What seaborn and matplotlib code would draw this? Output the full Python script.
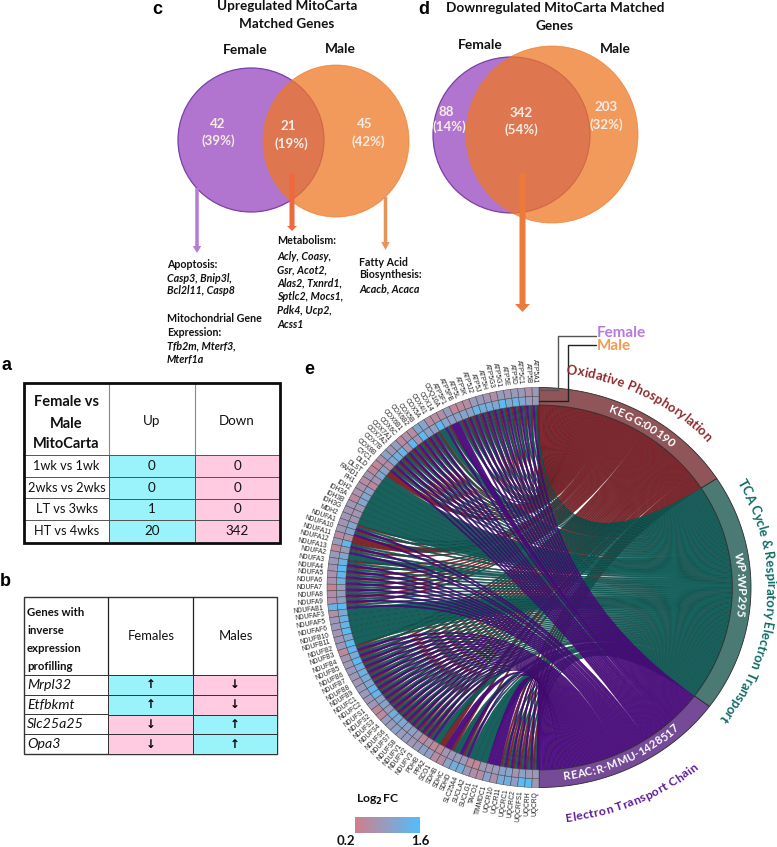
import numpy as np
import matplotlib
matplotlib.use("Agg")
import matplotlib.pyplot as plt
import seaborn as sns
from matplotlib.colors import LinearSegmentedColormap, ListedColormap, Normalize
from matplotlib.font_manager import FontProperties
from matplotlib.patches import Ellipse, PathPatch, Polygon, Rectangle
from matplotlib.path import Path
from matplotlib.textpath import text_to_path

# ------------ data --------------
table_a_rows = ["1wk vs 1wk", "2wks vs 2wks", "LT vs 3wks", "HT vs 4wks"]
table_a_up = [0, 0, 1, 20]
table_a_down = [0, 0, 0, 342]

table_b_genes = ["Mrpl32", "Etfbkmt", "Slc25a25", "Opa3"]
table_b_female = ["up", "up", "down", "down"]
table_b_male = ["down", "down", "up", "up"]

genes = ["ATP5A1", "ATP5B", "ATP5C1", "ATP5D", "ATP5E", "ATP5G1", "ATP5G3", "ATP5H", "ATP5J", "ATP5J2",
         "ATP5K", "ATP5L", "ATP5PB", "ATP5F1", "COQ10A", "COX14", "COX4I1", "COX5A", "COX5B", "COX6B2",
         "COX6B1", "COX6C", "COX7A1", "COX7A2", "COX7B", "COX8B", "CYC1", "DLD", "DLST", "FAHD1",
         "FH1", "IDH2", "IDH3A", "IDH3B", "IDH3G", "MDH2", "NDUFA1", "NDUFA10", "NDUFA11", "NDUFA12",
         "NDUFA13", "NDUFA2", "NDUFA3", "NDUFA4", "NDUFA5", "NDUFA6", "NDUFA7", "NDUFA8", "NDUFA9", "NDUFAB1",
         "NDUFAF3", "NDUFAF5", "NDUFAF6", "NDUFB10", "NDUFB11", "NDUFB2", "NDUFB3", "NDUFB4", "NDUFB5", "NDUFB6",
         "NDUFB7", "NDUFB8", "NDUFB9", "NDUFC1", "NDUFC2", "NDUFS1", "NDUFS2", "NDUFS3", "NDUFS4", "NDUFS6",
         "NDUFS7", "NDUFS8", "NDUFV1", "NDUFV2", "NDUFV3", "PDHB", "PPA2", "SCO1", "SDHB", "SDHC",
         "SDHD", "SLC25A4", "SUCLA2", "SUCLG1", "TACO1", "TIMMDC1", "UQCR10", "UQCR11", "UQCRC1", "UQCRC2",
         "UQCRFS1", "UQCRH", "UQCRQ"]

female_fc = [0.75, 0.55, 0.8, 0.8, 0.75, 0.85, 0.55, 0.7, 0.8, 0.85,
             0.5, 0.45, 0.4, 0.85, 0.55, 0.5, 0.5, 1.05, 1.1, 0.5,
             0.6, 0.45, 0.9, 0.75, 0.95, 0.55, 0.4, 0.4, 0.7, 0.5,
             0.65, 0.65, 0.45, 0.75, 0.7, 0.75, 0.7, 0.75, 0.45, 0.85,
             0.4, 0.8, 0.8, 0.7, 0.65, 0.65, 0.3, 0.55, 0.6, 1.3,
             0.6, 0.75, 0.8, 0.7, 0.75, 0.8, 0.4, 0.7, 0.75, 0.8,
             0.75, 0.7, 0.85, 0.8, 0.75, 0.75, 0.45, 0.45, 0.85, 0.85,
             0.95, 0.85, 0.85, 0.75, 0.8, 1.0, 0.9, 0.5, 0.5, 0.95,
             1.2, 1.2, 0.8, 0.55, 0.5, 1.05, 0.6, 1.2, 1.25, 0.9,
             1.5, 1.5, 0.75]

male_fc = [0.8, 0.85, 1.1, 1.4, 1.1, 1.55, 1.1, 1.3, 1.25, 1.4,
           1.0, 1.05, 1.0, 0.95, 1.05, 1.5, 0.9, 1.0, 1.5, 0.7,
           1.5, 0.65, 1.4, 1.25, 1.1, 0.55, 1.0, 1.05, 0.7, 0.45,
           0.95, 1.05, 1.1, 0.75, 0.7, 0.7, 1.05, 1.1, 0.55, 1.5,
           0.75, 1.1, 1.3, 1.5, 1.4, 1.25, 0.85, 0.9, 0.9, 1.5,
           1.1, 1.3, 1.4, 1.5, 1.1, 1.5, 1.4, 1.2, 1.5, 1.25,
           1.3, 1.2, 1.1, 1.45, 1.4, 1.0, 1.0, 0.85, 1.2, 1.15,
           1.1, 0.95, 0.95, 0.75, 0.45, 0.6, 0.4, 0.4, 0.7, 0.75,
           0.85, 0.8, 0.4, 0.35, 0.8, 0.7, 0.85, 1.0, 1.05, 0.7,
           0.95, 0.75, 0.8]

# which pathway each gene links to (K = KEGG, W = WP, R = REAC)
gene_links = (["KWR"] * 13 + ["R", "KWR", "W"] + ["KWR"] * 10 + ["K"] + ["W"] * 9
              + ["KWR"] * 2 + ["K"] + ["KWR"] * 2 + ["W"] + ["KWR"] * 8 + ["W"] * 6
              + ["KWR"] * 20 + ["W", "K", "R", "KW", "WR", "KWR"] + ["W"] * 3 + ["R"] * 2 + ["KWR"] * 7)[:93]

pathway_keys = ["K", "W", "R"]
pathway_ids = ["KEGG:00190", "WP:WP295", "REAC:R-MMU-1428517"]
pathway_names = ["Oxidative Phosphorylation", "TCA Cycle & Respiratory Electron Transport", "Electron Transport Chain"]

# ------------ style --------------
sns.set_theme(style="white")
plt.rcParams["font.family"] = ["Lato", "DejaVu Sans"]

W, H = 777, 847
fig = plt.figure(figsize=(W / 100, H / 100), dpi=100)
ax = fig.add_axes([0, 0, 1, 1])
ax.set_xlim(0, W)
ax.set_ylim(H, 0)
ax.axis("off")

PURPLE = "#b175cf"
ORANGE = "#ee7826"
CYAN = "#9af3fb"
PINK = "#ffcbe0"
INK = "#111111"
path_colors = {"K": "#7b1f26", "W": "#0e5a55", "R": "#4b0a80"}
edge_colors = {"K": "#5e1a20", "W": "#0b4441", "R": "#3d0a66"}
band_colors = {"K": "#8f5558", "W": "#4b7a75", "R": "#754a96"}
label_colors = {"K": "#8e2a2e", "W": "#0e6b66", "R": "#5a1a96"}
fc_cmap = LinearSegmentedColormap.from_list("fc", ["#d07e8c", "#54bdf9"])
fc_norm = Normalize(0.2, 1.6)


def px_axes(x0, y0, x1, y1):
    return fig.add_axes([x0 / W, 1 - y1 / H, (x1 - x0) / W, (y1 - y0) / H])


def venn(fx, fy, frx, fry, mx, my, mrx, mry):
    ax.add_patch(Ellipse((fx, fy), 2 * frx, 2 * fry, fc=PURPLE, ec="#7a3fa8", lw=0.9))
    ax.add_patch(Ellipse((mx, my), 2 * mrx, 2 * mry, fc=ORANGE, ec=ORANGE, lw=0.6, alpha=0.75))


def arrow(x, y0, y1, width, head_w, head_l, color):
    ax.arrow(x, y0, 0, y1 - y0, width=width, head_width=head_w, head_length=head_l,
             length_includes_head=True, color=color, lw=0)


def stack(x, rows, size):
    for y, s, style in rows:
        ax.text(x, y, s, fontsize=size, va="center", ha="left", color=INK,
                fontweight="bold", fontstyle=style)


# ------------ panel c and d venns --------------
venn(251, 140, 73, 72, 336, 141, 73, 76)
venn(511.5, 135, 78.5, 78, 552, 134.5, 86, 88.5)

ax.text(287, 6, "Upregulated MitoCarta", fontsize=9.7, fontweight="bold", ha="center", va="center", color=INK)
ax.text(287, 24, "Matched Genes", fontsize=9.7, fontweight="bold", ha="center", va="center", color=INK)
ax.text(245, 50, "Female", fontsize=9.9, fontweight="bold", ha="center", va="center", color=INK)
ax.text(340, 49, "Male", fontsize=9.9, fontweight="bold", ha="center", va="center", color=INK)
ax.text(555, 8, "Downregulated MitoCarta Matched", fontsize=9.8, fontweight="bold", ha="center", va="center", color=INK)
ax.text(555, 26, "Genes", fontsize=9.8, fontweight="bold", ha="center", va="center", color=INK)
ax.text(480, 45, "Female", fontsize=9.9, fontweight="bold", ha="center", va="center", color=INK)
ax.text(615, 49, "Male", fontsize=9.9, fontweight="bold", ha="center", va="center", color=INK)

venn_counts = [(218, 124, "42"), (218, 141, "(39%)"), (288, 126, "21"), (291, 144, "(19%)"),
               (365, 124, "45"), (368, 142, "(42%)"), (446, 112, "88"), (449, 127, "(14%)"),
               (521, 113, "342"), (521, 130, "(54%)"), (606, 107, "203"), (606, 125, "(32%)")]
for x, y, s in venn_counts:
    ax.text(x, y, s, color="#f6ece6", fontsize=9.6, fontweight="bold", ha="center", va="center")

arrow(197, 188, 253, 3.5, 8.5, 7, "#b57bd6")
arrow(292, 173, 231, 5, 10, 5, "#f0693e")
arrow(385.5, 197, 250, 3.5, 8.5, 8, "#e8935a")
arrow(522.5, 173, 312, 6, 15, 8, "#ed7a3a")

stack(167, [(264, "Apoptosis:", "normal"), (278, "Casp3, Bnip3l,", "italic"), (291, "Bcl2l11, Casp8", "italic"),
            (319, "Mitochondrial Gene", "normal"), (333, "Expression:", "normal"),
            (346, "Tfb2m, Mterf3,", "italic"), (360, "Mterf1a", "italic")], 7.7)
stack(277, [(241, "Metabolism:", "normal"), (256, "Acly, Coasy,", "italic"), (270, "Gsr, Acot2,", "italic"),
            (283, "Alas2, Txnrd1,", "italic"), (297, "Sptlc2, Mocs1,", "italic"),
            (310, "Pdk4, Ucp2,", "italic"), (324, "Acss1", "italic")], 7.7)
stack(359, [(262, "Fatty Acid", "normal"), (275, "Biosynthesis:", "normal"), (289, "Acacb, Acaca", "italic")], 7.7)

# ------------ panel a table --------------
LINE = "#555555"
ax.add_patch(Rectangle((23, 383), 257, 160, fc="white", ec="none"))
ax_a = px_axes(109, 455, 280, 542)
sns.heatmap(np.array([[0, 1]] * 4), annot=np.column_stack([table_a_up, table_a_down]), fmt="d",
            cmap=ListedColormap([CYAN, PINK]), cbar=False, xticklabels=False, yticklabels=False,
            linewidths=0.7, linecolor=LINE, ax=ax_a, annot_kws={"fontsize": 9.6, "color": INK})
for i, s in enumerate(table_a_rows):
    ax.text(66.5, 455 + 21.75 * (i + 0.5), s, fontsize=9.2, ha="center", va="center", color=INK)
    ax.plot([23, 109], [455 + 21.75 * i] * 2, color=LINE, lw=0.7)
ax.plot([109, 109], [383, 455], color="#888888", lw=0.8)
ax.plot([195, 195], [383, 455], color="#888888", lw=0.8)
for y, s in [(403, "Female vs"), (424, "Male"), (445, "MitoCarta")]:
    ax.text(66, y - 0.5, s, fontsize=10.5, fontweight="bold", ha="center", va="center", color=INK)
ax.text(152, 421, "Up", fontsize=9.6, ha="center", va="center", color=INK)
ax.text(237, 421, "Down", fontsize=9.6, ha="center", va="center", color=INK)
fig.add_artist(Rectangle((24 / W, 1 - 543 / H), 256 / W, 160 / H, fill=False, ec="#0c0c0c", lw=2.0,
                         transform=fig.transFigure))

# ------------ panel b table --------------
ax.add_patch(Rectangle((23.5, 597), 253.5, 157, fc="white", ec="#333333", lw=1.0))
arrow_glyph = {"up": "\u2191", "down": "\u2193"}
b_colors = np.array([[0 if f == "up" else 1, 0 if m == "up" else 1] for f, m in zip(table_b_female, table_b_male)])
b_annot = np.array([[arrow_glyph[f], arrow_glyph[m]] for f, m in zip(table_b_female, table_b_male)])
ax_b = px_axes(108, 675, 277, 754)
sns.heatmap(b_colors, annot=b_annot, fmt="", cmap=ListedColormap([CYAN, PINK]), cbar=False,
            xticklabels=False, yticklabels=False, linewidths=0.6, linecolor="#333333", ax=ax_b,
            annot_kws={"fontsize": 8.5, "color": "black", "fontweight": "bold", "family": "DejaVu Sans"})
for i, s in enumerate(table_b_genes):
    ax.text(27, 675 + 19.75 * (i + 0.5), s, fontsize=10.2, fontstyle="italic", ha="left", va="center", color=INK)
    ax.plot([23.5, 108], [675 + 19.75 * i] * 2, color="#333333", lw=0.7)
ax.plot([108, 108], [597, 675], color="#222222", lw=0.9)
ax.plot([193, 193], [597, 675], color="#222222", lw=0.9)
for y, s in [(612, "Genes with"), (630.5, "inverse"), (648.5, "expression"), (667, "profilling")]:
    ax.text(27, y, s, fontsize=8.2, fontweight="bold", ha="left", va="center", color=INK)
ax.text(151, 636, "Females", fontsize=9.4, ha="center", va="center", color=INK)
ax.text(236, 636, "Males", fontsize=9.4, ha="center", va="center", color=INK)

# ------------ panel labels --------------
for x, y, s in [(7, 365, "a"), (5, 581, "b"), (157, 9, "c"), (424, 9, "d"), (309, 369, "e")]:
    ax.text(x, y, s, fontsize=13, fontweight="bold", family="Liberation Sans", ha="center", va="center", color="black")

# ------------ panel e chord --------------
CX, CY = 539, 587.5
STRETCH = 1.06
R_OUT, R_MID, R_IN = 200, 191, 182.4
n_genes = len(genes)
step = 180 / n_genes
spans = {"K": (0, 57), "W": (57, 126.5), "R": (126.5, 180)}


def pt(theta, r):
    t = np.radians(theta)
    return CX + STRETCH * r * np.sin(t), CY - r * np.cos(t)


def arc(t0, t1, r, n=6):
    return [pt(t, r) for t in np.linspace(t0, t1, n)]


def band(t0, t1, r0, r1, **kw):
    n = max(6, int(abs(t1 - t0) * 2))
    ax.add_patch(Polygon(arc(t0, t1, r1, n) + arc(t1, t0, r0, n), closed=True, **kw))


# slots on the pathway side, in gene order
counts = {k: sum(k in links for links in gene_links) for k in pathway_keys}
used = {k: 0 for k in pathway_keys}
ribbons = {k: [] for k in pathway_keys}
for i, links in enumerate(gene_links):
    a0 = -i * step
    w = step / len(links)
    for j, k in enumerate(links):
        s0, s1 = spans[k]
        sw = (s1 - s0) / counts[k]
        b0 = s0 + used[k] * sw
        used[k] += 1
        ribbons[k].append((a0 - j * w, a0 - (j + 1) * w, b0, b0 + sw))

center = (CX, CY)
for k in pathway_keys:
    for g0, g1, b0, b1 in ribbons[k]:
        top = arc(b0, b1, R_IN, 3)
        low = arc(g1, g0, R_IN, 3)
        verts = [pt(g0, R_IN), center, top[0], top[1], top[2], center, low[0], low[1], low[2], low[2]]
        codes = [Path.MOVETO, Path.CURVE3, Path.CURVE3, Path.LINETO, Path.LINETO,
                 Path.CURVE3, Path.CURVE3, Path.LINETO, Path.LINETO, Path.CLOSEPOLY]
        ax.add_patch(PathPatch(Path(verts, codes), fc=path_colors[k], ec=edge_colors[k], lw=0.3, alpha=0.96))

for k, pid in zip(pathway_keys, pathway_ids):
    s0, s1 = spans[k]
    band(s0, s1, R_IN, R_OUT, fc=band_colors[k], ec="#2b2b2b", lw=0.6)

for i, g in enumerate(genes):
    t0, t1 = -i * step, -(i + 1) * step
    band(t0, t1, R_MID, R_OUT, fc=fc_cmap(fc_norm(female_fc[i])), ec="#444444", lw=0.35)
    band(t0, t1, R_IN, R_MID, fc=fc_cmap(fc_norm(male_fc[i])), ec="#444444", lw=0.35)
    a = (i + 0.5) * step
    x, y = pt(-a, 204)
    ax.text(x, y, g, fontsize=4.8, family="Liberation Sans", color="#222222", ha="right", va="center",
            rotation=a - 90, rotation_mode="anchor")


def arc_text(s, mid, r, size, color, weight="bold", flip=False, family="Lato"):
    prop = FontProperties(family=family, size=size, weight=weight)

    def width(txt):
        return text_to_path.get_text_width_height_descent(txt, prop, False)[0] * 100 / 72

    total = width(s)
    for n, ch in enumerate(s):
        off = width(s[:n]) + width(ch) / 2 - total / 2
        d = np.degrees(off / r)
        th = mid - d if flip else mid + d
        x, y = pt(th, r)
        rot = 180 - th if flip else -th
        ax.text(x, y, ch, fontproperties=prop, color=color, ha="center", va="center",
                rotation=rot, rotation_mode="anchor")


arc_text(pathway_ids[0], 31, 190.5, 8.6, "white")
arc_text(pathway_ids[1], 89, 190.5, 8.6, "white")
arc_text(pathway_ids[2], 155, 190.5, 8.0, "white", flip=True)
arc_text(pathway_names[0], 27, 219, 9.4, label_colors["K"])
arc_text(pathway_names[1], 94, 218, 9.4, label_colors["W"])
arc_text(pathway_names[2], 157, 232, 8.8, label_colors["R"], flip=True)

# female / male leader lines
ax.plot([539, 558, 558, 596], [390, 390, 336, 336], color="#555555", lw=1.0)
ax.plot([539, 568, 568, 596], [401, 401, 345, 345], color="#222222", lw=1.0)
ax.text(597, 333, "Female", color="#b57bdc", fontsize=11, fontweight="bold", ha="left", va="center")
ax.text(597, 346, "Male", color="#f5994f", fontsize=11, fontweight="bold", ha="left", va="center")

# colour key
ax_key = px_axes(355, 817, 420, 833)
sns.heatmap(np.linspace(0.2, 1.6, 65)[None, :], cmap=fc_cmap, norm=fc_norm, cbar=False,
            xticklabels=False, yticklabels=False, ax=ax_key)
ax_key.collections[0].set_edgecolor("face")
ax.text(378, 800, "Log$_\\mathbf{2}$FC", fontsize=8.8, fontweight="bold", ha="center", va="center", color=INK,
        math_fontfamily="dejavusans")
ax.text(346, 841, "0.2", fontsize=9.5, fontweight="bold", ha="center", va="center", color=INK)
ax.text(420, 841, "1.6", fontsize=9.5, fontweight="bold", ha="center", va="center", color=INK)

fig.savefig("out.png", dpi=100)
